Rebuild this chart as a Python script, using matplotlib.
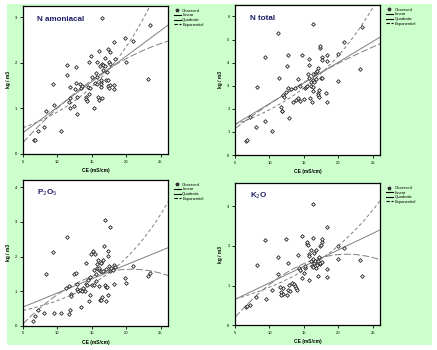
import numpy as np
import matplotlib.pyplot as plt
from matplotlib.patches import Rectangle
from matplotlib.lines import Line2D

plt.rcParams['font.family'] = ['Liberation Sans', 'DejaVu Sans']

# ---- data (CE in mS/cm, nutrient in kg/m3) ----
ce_namon = [6.6, 6.8, 7.2, 8.1, 8.3, 9.4, 9.5, 10.5, 11.4, 11.4, 11.7, 11.8, 11.9, 11.9,
            12.4, 12.6, 12.7, 12.7, 12.8, 12.9, 13.3, 13.5, 13.6, 14.1, 14.2, 14.3, 14.4,
            14.6, 14.6, 14.8, 14.9, 15.1, 15.3, 15.5, 15.6, 15.7, 15.7, 15.8, 15.9, 16.0,
            16.0, 16.2, 16.3, 16.3, 16.4, 16.4, 16.5, 16.5, 16.5, 16.6, 16.7, 16.9, 17.0,
            17.1, 17.2, 17.3, 17.4, 17.5, 17.6, 17.7, 17.4, 17.7, 17.5, 18.2, 18.3, 18.2,
            18.4, 19.9, 20.0, 21.0, 23.2, 23.5]
namon = [0.30, 0.30, 0.51, 0.60, 0.95, 1.53, 1.07, 0.51, 1.95, 1.73, 1.14, 1.23, 1.02, 1.47,
         1.06, 1.43, 1.90, 1.56, 1.26, 0.88, 1.53, 1.44, 1.49, 1.26, 1.21, 1.16, 1.47,
         1.31, 2.03, 1.45, 2.16, 1.68, 1.00, 1.56, 1.78, 1.53, 2.02, 1.68, 1.26, 1.18,
         2.27, 1.93, 1.58, 1.63, 1.53, 1.46, 2.98, 1.24, 1.97, 1.95, 1.84, 1.93, 2.11,
         1.63, 1.80, 1.49, 2.31, 2.03, 1.97, 2.25, 1.62, 1.51, 1.45, 1.43, 2.45, 1.51,
         2.09, 2.55, 2.03, 2.49, 1.64, 2.83]

ce_ntot = [6.6, 6.8, 7.1, 8.1, 8.2, 9.4, 9.4, 10.4, 11.3, 11.4, 11.7, 11.8, 11.8, 11.9,
           12.1, 12.4, 12.6, 12.7, 12.7, 12.9, 13.2, 13.4, 13.7, 13.9, 14.1, 14.2, 14.4,
           14.5, 14.8, 15.0, 15.1, 15.3, 15.4, 15.6, 15.7, 15.7, 15.8, 15.9, 16.0, 16.1,
           16.2, 16.3, 16.3, 16.3, 16.4, 16.4, 16.5, 16.7, 16.8, 16.9, 17.0, 17.0, 17.1,
           17.2, 17.2, 17.3, 17.4, 17.5, 17.6, 17.6, 17.7, 18.2, 18.3, 18.3, 18.3, 20.0,
           20.0, 20.9, 23.1, 23.4]
ntot = [0.62, 0.64, 1.66, 1.23, 2.93, 1.46, 4.26, 1.03, 5.30, 3.32, 2.07, 1.92, 1.92, 2.60,
        2.53, 2.75, 3.86, 4.31, 2.89, 1.59, 2.85, 2.31, 2.89, 2.38, 3.28, 2.46, 2.99,
        2.34, 4.34, 2.41, 2.92, 2.93, 2.99, 3.51, 3.89, 3.32, 4.15, 2.46, 3.18, 2.99,
        2.31, 3.51, 5.66, 2.79, 3.25, 2.96, 3.18, 3.58, 3.28, 3.64, 2.70, 2.60, 3.79,
        2.82, 2.53, 4.62, 4.70, 3.32, 4.23, 3.32, 4.12, 2.67, 2.31, 4.34, 4.05, 4.36,
        3.22, 4.91, 3.71, 5.53]

ce_p2o5 = [6.5, 6.7, 7.2, 8.1, 8.3, 9.4, 9.5, 10.5, 11.3, 11.4, 11.7, 11.7, 11.9, 12.0,
           12.0, 12.4, 12.7, 12.8, 12.9, 13.0, 13.3, 13.4, 13.6, 13.7, 14.0, 14.1, 14.2,
           14.3, 14.4, 14.6, 14.7, 14.8, 14.9, 15.0, 15.2, 15.3, 15.4, 15.5, 15.6, 15.6,
           15.7, 15.7, 15.9, 16.0, 16.0, 16.1, 16.2, 16.3, 16.4, 16.4, 16.4, 16.5, 16.6,
           16.7, 16.8, 16.9, 17.0, 17.1, 17.1, 17.1, 17.2, 17.3, 17.4, 17.4, 17.5, 17.6,
           17.6, 17.7, 17.8, 18.1, 18.2, 18.3, 18.4, 19.9, 20.0, 21.0, 23.2, 23.4]
p2o5 = [0.13, 0.28, 0.45, 0.36, 1.49, 2.14, 0.36, 0.38, 1.10, 2.55, 0.33, 1.16, 0.47, 0.91,
        0.86, 1.51, 1.53, 1.20, 1.05, 1.01, 1.03, 0.53, 1.01, 1.08, 1.01, 1.82, 1.22,
        1.18, 1.32, 0.71, 1.42, 0.89, 2.06, 1.18, 2.17, 1.18, 1.61, 2.07, 1.29, 1.51,
        1.68, 1.77, 1.90, 1.61, 1.16, 1.66, 0.74, 0.76, 1.80, 1.58, 1.82, 0.84, 1.90,
        1.59, 2.30, 1.18, 3.06, 0.71, 1.63, 1.11, 1.11, 2.02, 2.16, 0.89, 1.73, 2.84,
        1.58, 1.63, 1.68, 1.61, 1.22, 1.75, 1.69, 1.37, 1.24, 1.73, 1.44, 1.53]

ce_k2o = [6.6, 6.8, 7.1, 8.1, 8.2, 9.5, 9.4, 10.4, 11.3, 11.3, 11.6, 11.7, 11.9, 11.7,
          12.0, 12.4, 12.5, 12.7, 12.7, 12.9, 13.0, 13.3, 13.5, 13.7, 13.9, 14.0, 14.2,
          14.3, 14.5, 14.7, 14.8, 15.0, 15.2, 15.2, 15.4, 15.5, 15.6, 15.7, 15.7, 15.8,
          16.0, 16.1, 16.2, 16.3, 16.3, 16.4, 16.4, 16.5, 16.5, 16.6, 16.7, 16.8, 16.9,
          17.0, 17.1, 17.2, 17.3, 17.4, 17.4, 17.5, 17.6, 17.6, 17.7, 18.3, 18.3, 18.3,
          20.0, 20.0, 20.9, 23.1, 23.4]
k2o = [0.46, 0.49, 0.52, 0.72, 1.51, 0.65, 2.16, 0.90, 1.73, 1.28, 0.97, 0.85, 0.79, 0.76,
       0.93, 2.17, 0.76, 1.58, 0.90, 1.01, 0.87, 1.07, 1.03, 0.99, 0.93, 0.89, 1.78,
       1.44, 1.39, 2.26, 1.18, 1.31, 1.44, 1.50, 2.05, 2.09, 2.03, 1.14, 1.80, 1.75,
       1.89, 1.61, 1.50, 1.46, 3.06, 1.67, 2.20, 1.82, 1.56, 1.61, 1.44, 1.90, 1.52,
       1.61, 1.23, 1.72, 1.55, 1.56, 1.99, 2.02, 2.09, 2.17, 1.59, 1.42, 1.21, 2.47,
       2.00, 1.67, 1.94, 1.65, 1.23]

titles = ['N amoniacal', 'N total', r'P$_2$O$_5$', r'K$_2$O']
ylims = [3.25, 6.5, 4.21, 3.59]
yticks = [[0, 1, 2, 3], [0, 1, 2, 3, 4, 5, 6], [0, 1, 2, 3, 4], [0, 1, 2, 3]]
xticks = [5, 10, 15, 20, 25]
xlim = (5, 26.1)

# axes boxes in figure fractions (left, bottom, width, height)
boxes = [(0.0526, 0.560, 0.332, 0.423),
         (0.538, 0.557, 0.332, 0.429),
         (0.0526, 0.069, 0.332, 0.417),
         (0.538, 0.071, 0.332, 0.406)]

series = [(ce_namon, namon), (ce_ntot, ntot), (ce_p2o5, p2o5), (ce_k2o, k2o)]

green = '#ccffcc'
line_c = '#7f7f7f'

fig = plt.figure(figsize=(4.37, 3.5), dpi=100)
fig.patches.append(Rectangle((7 / 437, 5 / 350), 425 / 437, 341 / 350,
                             transform=fig.transFigure, facecolor=green,
                             edgecolor='none', zorder=-1))

for i in range(4):
    ax = fig.add_axes(boxes[i])
    x = np.array(series[i][0])
    y = np.array(series[i][1])

    # curve fits like the SPSS curve estimation
    xs = np.linspace(xlim[0], xlim[1], 200)
    lin = np.polyfit(x, y, 1)
    quad = np.polyfit(x, y, 2)
    expo = np.polyfit(x, np.log(y), 1)

    ax.plot(xs, np.polyval(lin, xs), color=line_c, lw=0.7)
    ax.plot(xs, np.polyval(quad, xs), color=line_c, lw=0.7, dashes=(7, 2.5))
    ax.plot(xs, np.exp(np.polyval(expo, xs)), color=line_c, lw=0.7, dashes=(3.5, 2.5))
    ax.scatter(x, y, marker='D', s=3.5, facecolors='white', edgecolors='#222222',
               linewidths=0.6, zorder=3)

    ax.set_xlim(*xlim)
    ax.set_ylim(0, ylims[i])
    ax.set_xticks(xticks)
    ax.set_yticks(yticks[i])
    ax.tick_params(labelsize=3, length=2.5, width=0.6, pad=1.5)
    for s in ax.spines.values():
        s.set_linewidth(0.9)
    ax.set_xlabel('CE (mS/cm)', fontsize=3.5, fontweight='bold', labelpad=3)
    ax.set_ylabel('kg / m3', fontsize=3.5, fontweight='bold', labelpad=3)

    ax.text(0.10, 0.91, titles[i], transform=ax.transAxes, fontsize=5.8,
            fontweight='bold', color='#1c1c66', va='center', ha='left')

    handles = [Line2D([], [], color='#333333', marker='*', ls='none', markersize=2.5),
               Line2D([], [], color='black', lw=0.8),
               Line2D([], [], color='black', lw=0.8),
               Line2D([], [], color='black', lw=0.8, dashes=(3, 1.5))]
    ax.legend(handles, ['Observed', 'Linear', 'Quadratic', 'Exponential'],
              loc='upper left', bbox_to_anchor=(1.02, 1.0), frameon=False,
              fontsize=3, handlelength=1.6, labelspacing=0.15, borderpad=0.2,
              handletextpad=0.4)

fig.savefig('out.png', dpi=100, facecolor='white')
